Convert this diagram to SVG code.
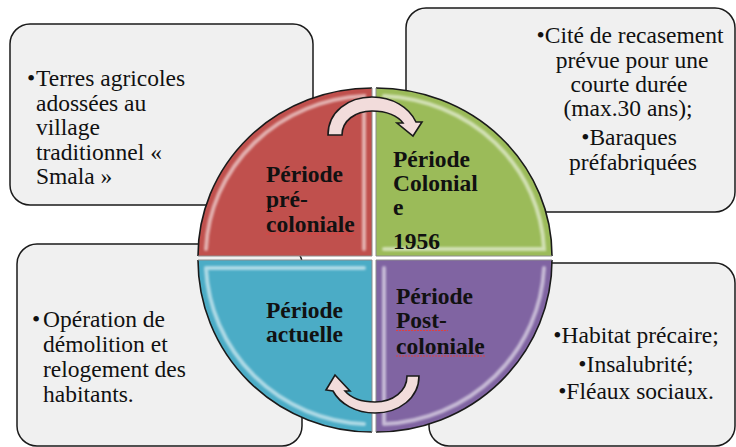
<svg xmlns="http://www.w3.org/2000/svg" width="736" height="447" viewBox="0 0 736 447">
<defs>
<filter id="soft" x="-10%" y="-10%" width="120%" height="120%">
<feGaussianBlur stdDeviation="1.3"/>
</filter>
</defs>
<style>
.box{fill:#f0f0f0;stroke:#1a1a1a;stroke-width:1.5}
.t{font-family:"Liberation Serif","Times New Roman",serif;font-size:23.5px;fill:#111}
.c{text-anchor:middle}
.q{font-family:"Liberation Serif","Times New Roman",serif;font-size:23.5px;font-weight:bold;fill:#111}
.rim{fill:none;stroke:#1a1a1a;stroke-width:1.6}
.edge{fill:none;stroke:#8c8c8c;stroke-width:1}
.hl{fill:none;stroke:#ffffff;stroke-width:4;stroke-opacity:0.55;stroke-linecap:round;filter:url(#soft)}
.arrow{fill:#f2dcdb;stroke:#1a1a1a;stroke-width:1.6;stroke-linejoin:miter}
.sp{fill:none;stroke:#e04040;stroke-width:1.2;stroke-dasharray:2 1}
</style>
<rect width="736" height="447" fill="#ffffff"/>

<g id="box-preco">
<rect class="box" x="10" y="24" width="303" height="181" rx="20"/>
<text class="t" x="27" y="86">•</text>
<text class="t" x="36" y="86">Terres agricoles</text>
<text class="t" x="36" y="110.5">adossées au</text>
<text class="t" x="36" y="135">village</text>
<text class="t" x="36" y="159.5">traditionnel «</text>
<text class="t" x="36" y="184">Smala »</text>
</g>

<g id="box-colo">
<rect class="box" x="406" y="8" width="329" height="204" rx="20"/>
<text class="t c" x="630" y="43">•Cité de recasement</text>
<text class="t c" x="632" y="68">prévue pour une</text>
<text class="t c" x="629" y="92">courte durée</text>
<text class="t c" x="628" y="116">(max.30 ans);</text>
<text class="t c" x="629" y="145">•Baraques</text>
<text class="t c" x="633" y="170">préfabriquées</text>
</g>

<g id="box-actu">
<rect class="box" x="17" y="244" width="285" height="202" rx="20"/>
<text class="t" x="32" y="327">•</text>
<text class="t" x="43" y="327">Opération de</text>
<text class="t" x="43" y="352">démolition et</text>
<text class="t" x="43" y="377">relogement des</text>
<text class="t" x="43" y="402">habitants.</text>
</g>

<g id="box-post">
<rect class="box" x="429" y="263" width="306" height="183" rx="20"/>
<text class="t c" x="636" y="343">•Habitat précaire;</text>
<text class="t c" x="636" y="372">•Insalubrité;</text>
<text class="t c" x="636" y="399">•Fléaux sociaux.</text>
</g>

<g id="q-preco">
<path d="M372,256 L198,256 A174,168 0 0 1 372,88 Z" fill="#c0504d"/>
<path class="hl" d="M206,249 A166,160 0 0 1 364,96 L364,249"/>
<path class="rim" d="M198,256 A174,168 0 0 1 372,88"/>
<path class="edge" d="M372,88 L372,256 L198,256"/>
<text class="q" x="266" y="182">Période</text>
<text class="q" x="266" y="206.5">pré-</text>
<text class="q" x="266" y="231.5">coloniale</text>
<path class="sp" d="M266,209 H284 M266,234 H356"/>
</g>

<g id="q-colo">
<path d="M376,256 L376,88 A176,168 0 0 1 552,256 Z" fill="#9bbb59"/>
<path class="hl" d="M384,96 A168,160 0 0 1 544,249 L384,249"/>
<path class="rim" d="M376,88 A176,168 0 0 1 552,256"/>
<path class="edge" d="M376,88 L376,256 L552,256"/>
<text class="q" x="393" y="167">Période</text>
<text class="q" x="393" y="191">Colonial</text>
<text class="q" x="393" y="215">e</text>
<text class="q" x="393" y="249">1956</text>
</g>

<g id="q-actu">
<path d="M372,260 L198,260 A174,172 0 0 0 372,432 Z" fill="#4bacc6"/>
<path class="hl" d="M206,268 L364,268 M206,268 A166,164 0 0 0 364,424"/>
<path class="rim" d="M198,260 A174,172 0 0 0 372,432"/>
<path class="edge" d="M198,260 L372,260 L372,432"/>
<text class="q c" x="304.5" y="317.5">Période</text>
<text class="q c" x="304.5" y="341.5">actuelle</text>
</g>

<g id="q-post">
<path d="M376,260 L552,260 A176,172 0 0 1 376,432 Z" fill="#8064a2"/>
<path class="hl" d="M384,268 L384,424 M544,268 A168,164 0 0 1 384,424"/>
<path class="rim" d="M552,260 A176,172 0 0 1 376,432"/>
<path class="edge" d="M376,432 L376,260 L552,260"/>
<text class="q" x="396" y="304">Période</text>
<text class="q" x="396" y="328">Post-</text>
<text class="q" x="396" y="354">coloniale</text>
<path class="sp" d="M396,330.5 H448 M396,356 H485"/>
</g>

<g id="connectors">
<path class="arrow" d="M328,135 C328,112 348,97 372,97 C392,97 409,107 416,122 L422,122 L413,136 L397,123 L403,123 C398,116 387,111 372,111 C355,111 342,121 342,135 Z"/>
<path class="arrow" d="M419,376 C419,398 399,413 375,413 C356,413 340,404 333,391 L326,390 L335,375 L350,391 L345,391 C351,398 362,402 375,402 C393,402 407,391 407,376 Z"/>
</g>
</svg>
